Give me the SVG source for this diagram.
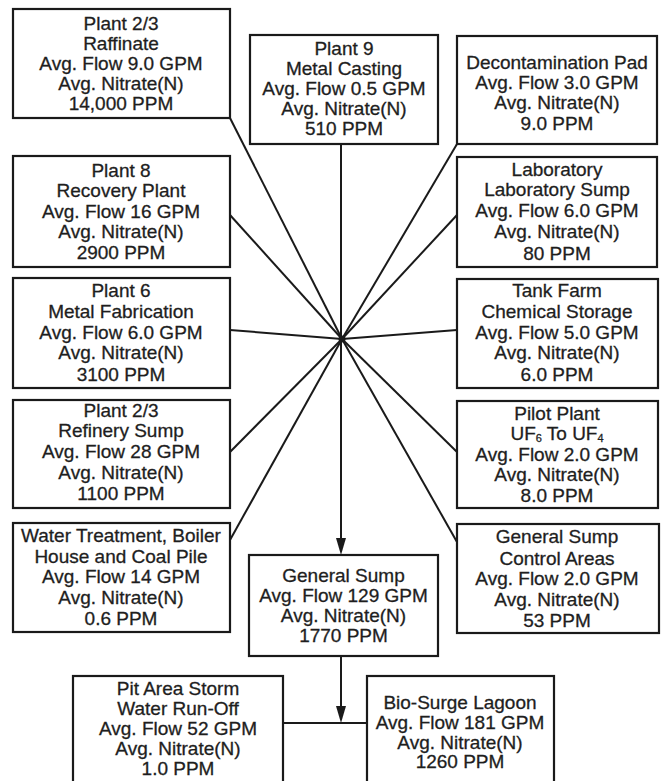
<svg xmlns="http://www.w3.org/2000/svg" width="666" height="781" viewBox="0 0 666 781">
<style>
.box{fill:#fff;stroke:#1a1a1a;stroke-width:2.2}
.t{font-family:"Liberation Sans",Arial,sans-serif;font-size:19px;fill:#1e1e1e;stroke:#1e1e1e;stroke-width:0.3;text-anchor:middle}
.c{stroke:#1a1a1a;stroke-width:2;fill:none}
.sub{font-size:11px}
</style>
<rect width="666" height="781" fill="#fff"/>
<g id="connectors">
<line class="c" x1="230" y1="118" x2="342" y2="339"/>
<line class="c" x1="230" y1="215" x2="342" y2="339"/>
<line class="c" x1="230" y1="330" x2="342" y2="339"/>
<line class="c" x1="230" y1="452" x2="342" y2="339"/>
<line class="c" x1="230" y1="540" x2="342" y2="339"/>
<line class="c" x1="457" y1="144" x2="342" y2="339"/>
<line class="c" x1="457" y1="215" x2="342" y2="339"/>
<line class="c" x1="457" y1="330" x2="342" y2="339"/>
<line class="c" x1="457" y1="452" x2="342" y2="339"/>
<line class="c" x1="457" y1="542" x2="342" y2="339"/>
<circle cx="342" cy="339" r="3.5" fill="#1a1a1a"/>
<line class="c" x1="341" y1="144" x2="341" y2="540"/>
<path d="M336,538 L346,538 L341,555 Z" fill="#1a1a1a"/>
<line class="c" x1="341" y1="656" x2="341" y2="708"/>
<path d="M336,706 L346,706 L341,723 Z" fill="#1a1a1a"/>
<line class="c" x1="283" y1="723" x2="367" y2="723"/>
</g>
<g id="raffinate">
<rect class="box" x="13" y="9" width="217" height="109"/>
<text class="t" x="121" y="30">Plant 2/3</text>
<text class="t" x="121" y="50">Raffinate</text>
<text class="t" x="121" y="70">Avg. Flow 9.0 GPM</text>
<text class="t" x="121" y="90">Avg. Nitrate(N)</text>
<text class="t" x="121" y="110">14,000 PPM</text>
</g>
<g id="plant9">
<rect class="box" x="250" y="35" width="188" height="109"/>
<text class="t" x="344" y="54.5">Plant 9</text>
<text class="t" x="344" y="74.5">Metal Casting</text>
<text class="t" x="344" y="95">Avg. Flow 0.5 GPM</text>
<text class="t" x="344" y="115">Avg. Nitrate(N)</text>
<text class="t" x="344" y="135">510 PPM</text>
</g>
<g id="decon">
<rect class="box" x="457" y="36" width="200" height="108"/>
<text class="t" x="557" y="68.5">Decontamination Pad</text>
<text class="t" x="557" y="89">Avg. Flow 3.0 GPM</text>
<text class="t" x="557" y="109">Avg. Nitrate(N)</text>
<text class="t" x="557" y="130">9.0 PPM</text>
</g>
<g id="plant8">
<rect class="box" x="13" y="156" width="217" height="111"/>
<text class="t" x="121" y="177">Plant 8</text>
<text class="t" x="121" y="197">Recovery Plant</text>
<text class="t" x="121" y="217.5">Avg. Flow 16 GPM</text>
<text class="t" x="121" y="238">Avg. Nitrate(N)</text>
<text class="t" x="121" y="259">2900 PPM</text>
</g>
<g id="laboratory">
<rect class="box" x="457" y="157" width="200" height="110"/>
<text class="t" x="557" y="175.5">Laboratory</text>
<text class="t" x="557" y="196">Laboratory Sump</text>
<text class="t" x="557" y="217">Avg. Flow 6.0 GPM</text>
<text class="t" x="557" y="238">Avg. Nitrate(N)</text>
<text class="t" x="557" y="260">80 PPM</text>
</g>
<g id="plant6">
<rect class="box" x="13" y="278" width="217" height="110"/>
<text class="t" x="121" y="297">Plant 6</text>
<text class="t" x="121" y="318">Metal Fabrication</text>
<text class="t" x="121" y="338.5">Avg. Flow 6.0 GPM</text>
<text class="t" x="121" y="359">Avg. Nitrate(N)</text>
<text class="t" x="121" y="381">3100 PPM</text>
</g>
<g id="tankfarm">
<rect class="box" x="457" y="279" width="201" height="109"/>
<text class="t" x="557" y="297">Tank Farm</text>
<text class="t" x="557" y="318">Chemical Storage</text>
<text class="t" x="557" y="338.5">Avg. Flow 5.0 GPM</text>
<text class="t" x="557" y="359">Avg. Nitrate(N)</text>
<text class="t" x="557" y="381">6.0 PPM</text>
</g>
<g id="refinery">
<rect class="box" x="13" y="400" width="217" height="108"/>
<text class="t" x="121" y="417">Plant 2/3</text>
<text class="t" x="121" y="437">Refinery Sump</text>
<text class="t" x="121" y="458">Avg. Flow 28 GPM</text>
<text class="t" x="121" y="479">Avg. Nitrate(N)</text>
<text class="t" x="121" y="500">1100 PPM</text>
</g>
<g id="pilot">
<rect class="box" x="457" y="401" width="201" height="107"/>
<text class="t" x="557" y="420">Pilot Plant</text>
<text class="t" x="557" y="439.5">UF<tspan class="sub" dy="2.5">6</tspan><tspan dy="-2.5"> To UF</tspan><tspan class="sub" dy="2.5">4</tspan></text>
<text class="t" x="557" y="460.5">Avg. Flow 2.0 GPM</text>
<text class="t" x="557" y="481">Avg. Nitrate(N)</text>
<text class="t" x="557" y="502">8.0 PPM</text>
</g>
<g id="water">
<rect class="box" x="13" y="523" width="217" height="109"/>
<text class="t" x="121" y="542">Water Treatment, Boiler</text>
<text class="t" x="121" y="563">House and Coal Pile</text>
<text class="t" x="121" y="583">Avg. Flow 14 GPM</text>
<text class="t" x="121" y="604">Avg. Nitrate(N)</text>
<text class="t" x="121" y="625">0.6 PPM</text>
</g>
<g id="controlareas">
<rect class="box" x="457" y="524" width="202" height="109"/>
<text class="t" x="557" y="543">General Sump</text>
<text class="t" x="557" y="565">Control Areas</text>
<text class="t" x="557" y="585">Avg. Flow 2.0 GPM</text>
<text class="t" x="557" y="606">Avg. Nitrate(N)</text>
<text class="t" x="557" y="627">53 PPM</text>
</g>
<g id="generalsump">
<rect class="box" x="249" y="555" width="189" height="101"/>
<text class="t" x="343.5" y="582">General Sump</text>
<text class="t" x="343.5" y="602">Avg. Flow 129 GPM</text>
<text class="t" x="343.5" y="621.5">Avg. Nitrate(N)</text>
<text class="t" x="343.5" y="642">1770 PPM</text>
</g>
<g id="pitarea">
<rect class="box" x="73" y="676" width="210" height="120"/>
<text class="t" x="178" y="695">Pit Area Storm</text>
<text class="t" x="178" y="715">Water Run-Off</text>
<text class="t" x="178" y="735">Avg. Flow 52 GPM</text>
<text class="t" x="178" y="755">Avg. Nitrate(N)</text>
<text class="t" x="178" y="775">1.0 PPM</text>
</g>
<g id="biosurge">
<rect class="box" x="367" y="676" width="187" height="120"/>
<text class="t" x="460" y="709">Bio-Surge Lagoon</text>
<text class="t" x="460" y="729">Avg. Flow 181 GPM</text>
<text class="t" x="460" y="749">Avg. Nitrate(N)</text>
<text class="t" x="460" y="768">1260 PPM</text>
</g>
</svg>
